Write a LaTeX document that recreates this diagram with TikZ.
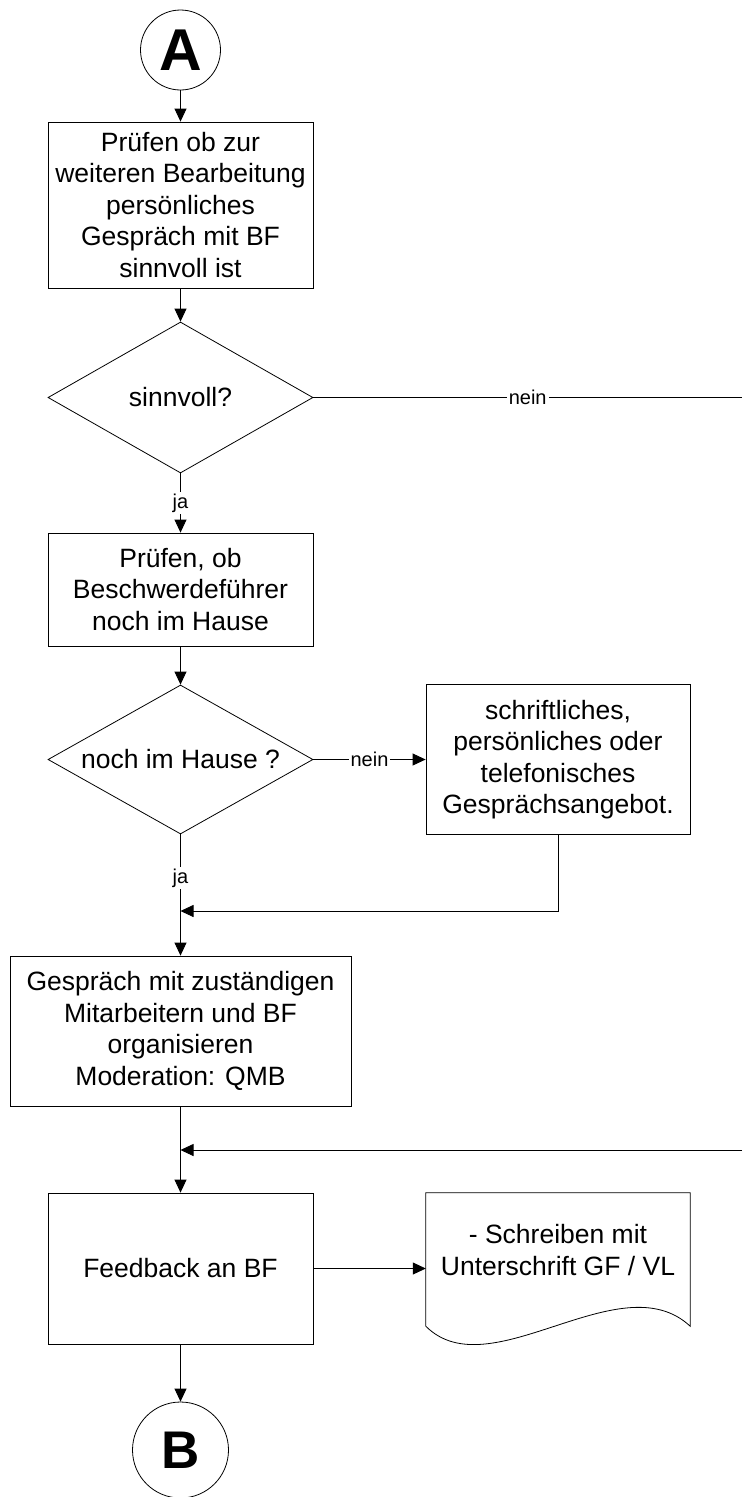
\documentclass[tikz,border=0pt]{standalone}
\usepackage{fontspec}
\setmainfont{Liberation Sans}
\usetikzlibrary{arrows.meta,shapes.geometric}
\begin{document}
\begin{tikzpicture}[x=1pt,y=-1pt,
  every node/.style={font=\fontsize{26.5}{31.5}\selectfont},
  proc/.style={draw,rectangle,inner sep=0pt,align=center,line width=0.8pt},
  dec/.style={draw,diamond,inner sep=0pt,minimum width=265pt,minimum height=151pt,line width=0.8pt},
  conn/.style={draw,circle,inner sep=0pt,line width=0.8pt},
  arr/.style={line width=0.8pt,-{Triangle[length=13pt,width=12pt]}},
  ln/.style={line width=0.8pt},
  lab/.style={fill=white,inner sep=2pt,font=\fontsize{20}{24}\selectfont}]
\useasboundingbox (0,0) rectangle (742,1497);
\node[conn,minimum size=80pt,font=\fontsize{59}{60}\selectfont\bfseries] (A) at (180.5,50) {A};
\node[proc,minimum width=265pt,minimum height=166pt] (b1) at (180.5,205) {Prüfen ob zur\\weiteren Bearbeitung\\persönliches\\Gespräch mit BF\\sinnvoll ist};
\node[dec,label=center:sinnvoll?] (d1) at (180.5,397.5) {};
\node[proc,minimum width=265pt,minimum height=113pt] (b2) at (180.5,589.5) {Prüfen, ob\\Beschwerdeführer\\noch im Hause};
\node[dec,minimum height=149pt,label=center:{noch im Hause ?}] (d2) at (180.5,759.5) {};
\node[proc,minimum width=264pt,minimum height=150pt] (b3) at (558,759.5) {schriftliches,\\persönliches oder\\telefonisches\\Gesprächsangebot.};
\node[proc,minimum width=341pt,minimum height=150pt] (b4) at (180.5,1031) {Gespräch mit zuständigen\\Mitarbeitern und BF\\organisieren\\Moderation: QMB};
\node[proc,minimum width=265pt,minimum height=151pt] (fb) at (180.5,1268.5) {Feedback an BF};
\node[minimum width=264pt,minimum height=133pt,inner sep=0pt,label={[yshift=9.5pt,align=center]center:{- Schreiben mit\\Unterschrift GF / VL}}] (doc) at (558,1259.5) {};
\draw[ln] (doc.north west) -- (doc.north east) -- (doc.south east) .. controls +(-70,-65) and +(64,64) .. (doc.south west) -- cycle;
\node[conn,minimum size=96pt,font=\fontsize{53}{54}\selectfont\bfseries] (B) at (180.5,1450) {B};
\coordinate (e1) at (742,397.5);
\coordinate (e2) at (742,1150);
\coordinate (j1) at (180.5,911);
\coordinate (j2) at (180.5,1150);
\draw[arr] (A) -- (b1);
\draw[arr] (b1) -- (d1);
\draw[ln] (d1.east) -- node[lab]{nein} (e1);
\draw[arr] (d1) -- node[lab]{ja} (b2);
\draw[arr] (b2) -- (d2);
\draw[arr] (d2.east) -- node[lab]{nein} (b3.west);
\draw[arr] (d2) -- node[lab,pos=0.36]{ja} (b4);
\draw[arr] (b3.south) |- (j1);
\draw[arr] (b4) -- (fb);
\draw[arr] (e2) -- (j2);
\draw[arr] (fb.east) -- (fb.east -| doc.west);
\draw[arr] (fb) -- (B);
\end{tikzpicture}
\end{document}
